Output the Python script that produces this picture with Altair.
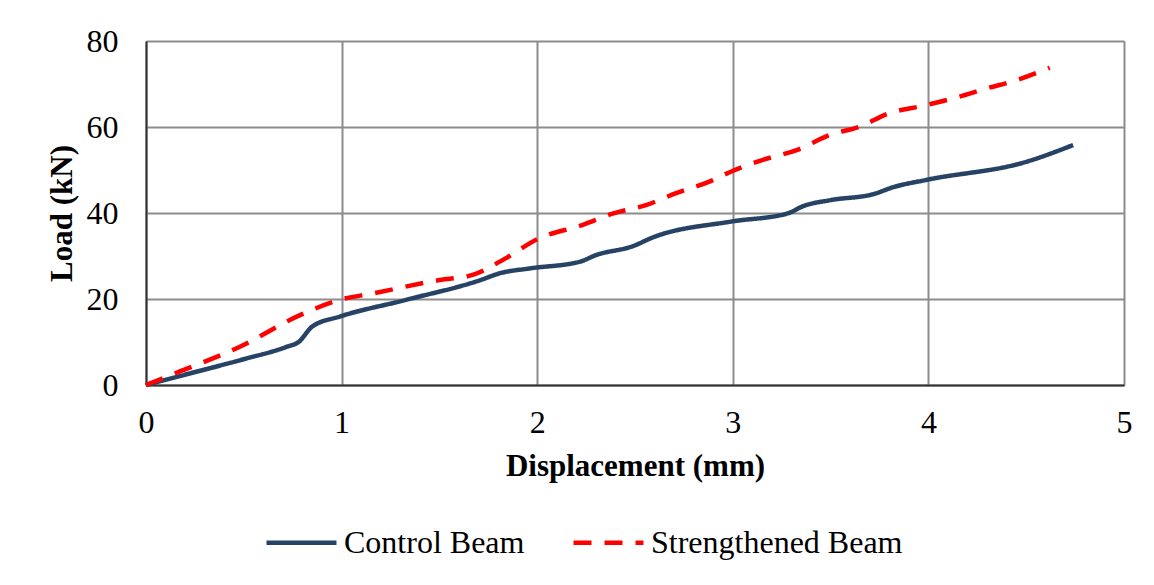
import altair as alt
import pandas as pd

control_x = [0, 0.25, 0.5, 0.72, 0.78, 0.85, 0.99, 1.33, 1.71, 1.81, 1.96, 2.22, 2.30, 2.49, 2.59, 2.99, 3.28, 3.36, 3.50, 3.72, 3.82, 3.99, 4.50, 4.74]
control_y = [0, 3.0, 6.0, 8.9, 10.0, 13.6, 15.9, 19.8, 24.4, 26.0, 27.1, 28.7, 30.2, 32.3, 34.3, 38.0, 39.9, 41.6, 43.0, 44.4, 46.0, 47.7, 51.9, 55.8]

streng_x = [0, 0.17, 0.48, 0.79, 0.99, 1.16, 1.50, 1.67, 1.84, 2.00, 2.23, 2.39, 2.56, 2.71, 2.88, 2.99, 3.15, 3.33, 3.50, 3.65, 3.80, 3.97, 4.13, 4.30, 4.45, 4.62]
streng_y = [0, 3.1, 8.9, 16.3, 19.8, 21.3, 24.4, 25.6, 29.5, 33.9, 37.2, 39.9, 41.9, 44.6, 47.3, 49.6, 52.3, 54.7, 58.2, 60.1, 63.2, 64.9, 66.7, 69.0, 70.9, 73.8]

series_names = ["Control Beam", "Strengthened Beam"]

rows = []
for i, (x, y) in enumerate(zip(control_x, control_y)):
    rows.append({"d": x, "load": y, "series": series_names[0], "o": i})
for i, (x, y) in enumerate(zip(streng_x, streng_y)):
    rows.append({"d": x, "load": y, "series": series_names[1], "o": i})
df = pd.DataFrame(rows)

FONT = "Liberation Serif"

chart = alt.Chart(df).mark_line(strokeWidth=4.5, interpolate="monotone", strokeCap="butt").encode(
    x=alt.X("d:Q", scale=alt.Scale(domain=[0, 5], nice=False),
            axis=alt.Axis(title="Displacement (mm)", values=[0, 1, 2, 3, 4, 5], format="d",
                          labelPadding=22, titlePadding=13, labelFlush=False)),
    y=alt.Y("load:Q", scale=alt.Scale(domain=[0, 80], nice=False),
            axis=alt.Axis(title="Load (kN)", values=[0, 20, 40, 60, 80], labelPadding=28,
                          titlePadding=8, labelFlush=False)),
    color=alt.Color("series:N", scale=alt.Scale(domain=series_names, range=["#264365", "#ff0000"]),
                    legend=alt.Legend(title=None, orient="none", legendX=118, legendY=464,
                                      direction="horizontal", symbolType="stroke",
                                      symbolSize=4900, symbolStrokeWidth=4.5,
                                      labelFontSize=32, labelFont=FONT, labelColor="#000",
                                      labelOffset=5, columnPadding=39, labelLimit=400)),
    strokeDash=alt.StrokeDash("series:N", scale=alt.Scale(domain=series_names, range=[[1, 0], [18, 13]]),
                              legend=None),
    order="o:Q",
).properties(
    width=978, height=344,
    autosize=alt.AutoSizeParams(type="none"),
    padding={"left": 146, "top": 41, "right": 30, "bottom": 200},
).configure_axis(
    labelFont=FONT, labelFontSize=32, labelColor="#000",
    titleFont=FONT, titleFontSize=31, titleFontWeight="bold", titleColor="#000",
    gridColor="#8c8c8c", gridWidth=2, ticks=False,
    domainColor="#333", domainWidth=2,
).configure_view(stroke=None)

chart.save("out.html", embed_options={"renderer": "svg", "actions": False})
